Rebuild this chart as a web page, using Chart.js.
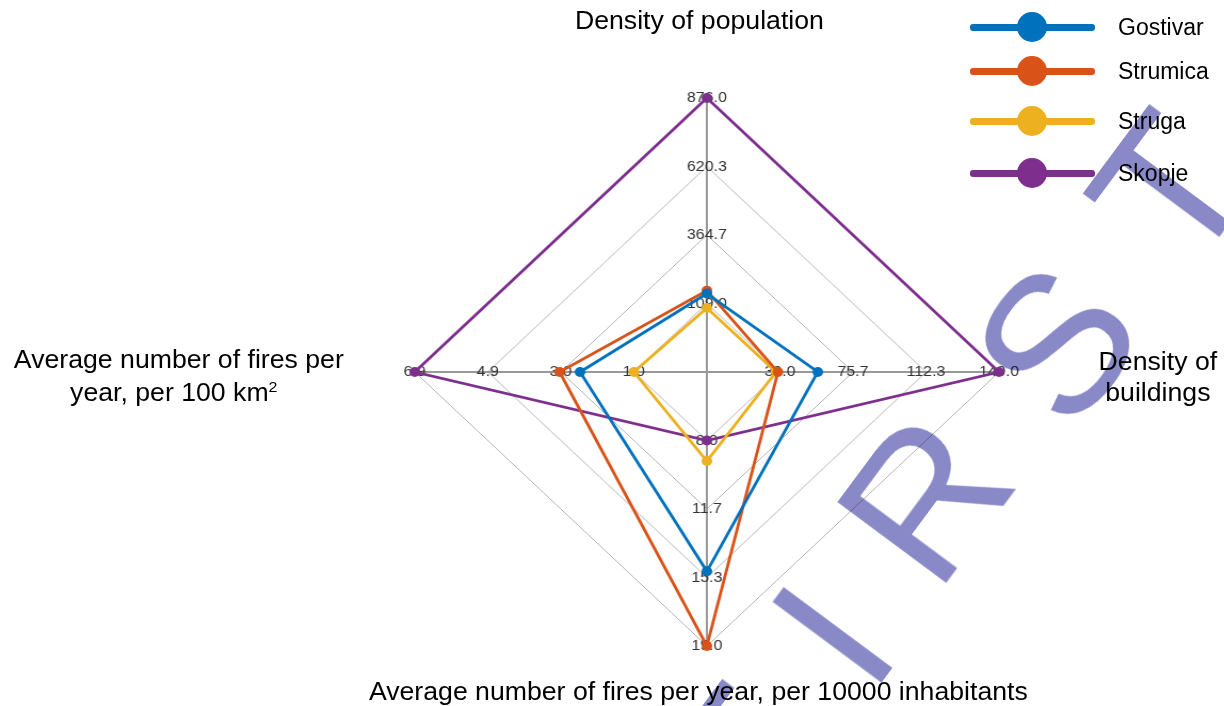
<!DOCTYPE html>
<html>
<head>
<meta charset="utf-8">
<script src="https://cdn.jsdelivr.net/npm/chart.js@4.4.1/dist/chart.umd.min.js"></script>
<style>
  html, body { margin: 0; padding: 0; background: #fff; overflow: hidden; }
  body { width: 1224px; height: 706px; position: relative; font-family: Arial, 'Liberation Sans', sans-serif; color: #000; }
  /* the source picture is stretched ~6.6% horizontally, so the chart stage is too */
  #stage { position: absolute; left: 0; top: 0; width: 1148px; height: 706px; transform: scaleX(1.0662); transform-origin: 0 0; }
  #chart { position: absolute; left: 0; top: 0; }
  .title { position: absolute; font-size: 25px; text-align: center; white-space: nowrap; }
  .title sup { font-size: 15px; line-height: 0; vertical-align: 9px; }
  .lg-line { position: absolute; left: 970px; width: 125px; height: 7px; border-radius: 3px; }
  .lg-dot { position: absolute; left: 1017px; width: 30px; height: 30px; border-radius: 50%; }
  .lg-text { position: absolute; left: 1118px; font-size: 23px; line-height: 30px; white-space: nowrap; }
  #mark {
    position: absolute; left: 765px; top: 684px;
    font: 197px/197px 'Liberation Sans', Arial, sans-serif; letter-spacing: 66px;
    color: rgb(137, 137, 199); mix-blend-mode: multiply; white-space: nowrap;
    transform-origin: 0 166.8px; transform: rotate(-53.4deg);
  }
  #mark span { position: relative; }
</style>
</head>
<body>
<div id="stage">
  <canvas id="chart" width="1148" height="706"></canvas>
  <div class="title" style="left:356px;width:600px;top:5px;line-height:30px">Density of population</div>
  <div class="title" style="left:13px;width:300px;top:343px;line-height:33.4px">Average number of fires per<br>year, per 100 km<sup>2</sup></div>
  <div class="title" style="left:936px;width:300px;top:346px;line-height:30.5px">Density of<br>buildings</div>
  <div class="title" style="left:255px;width:800px;top:676px;line-height:30px">Average number of fires per year, per 10000 inhabitants</div>
</div>
<div id="legend"></div>
<div id="mark">F<span style="top:-6px">I</span><span style="top:-14px">R</span>ST</div>

<script>
// axes, clockwise from the top
const axes = [
  'Density of population',
  'Density of buildings',
  'Average number of fires per year, per 10000 inhabitants',
  'Average number of fires per year, per 100 km2',
];

// tick labels per axis (innermost ring -> outer ring)
const popTicks = [109.0, 364.7, 620.3, 876.0];
const bldTicks = [39.0, 75.7, 112.3, 149.0];
const fires10kTicks = [8.0, 11.7, 15.3, 19.0];
const fires100kmTicks = [1.0, 3.0, 4.9, 6.9];

const cities = ['Gostivar', 'Strumica', 'Struga', 'Skopje'];
const colors = ['#0072BD', '#D95319', '#EDB120', '#7E2F8E'];

// values in axis order
const gostivar = [146, 58, 15.0, 2.45];
const strumica = [157, 38, 19.0, 3.0];
const struga = [92, 37, 9.1, 1.0];
const skopje = [876, 149, 8.0, 6.9];

const series = [gostivar, strumica, struga, skopje];
const axisTicks = [popTicks, bldTicks, fires10kTicks, fires100kmTicks];

// each axis has its own range: first tick sits on ring 1, last on ring 4
const RINGS = 4;
function toRing(v, i) {
  const t = axisTicks[i];
  const lo = t[0], hi = t[t.length - 1];
  return 1 + (RINGS - 1) * (v - lo) / (hi - lo);
}

/* ---------- per-axis tick labels ---------- */
const axisTickLabels = {
  id: 'axisTickLabels',
  beforeDatasetsDraw(chart) {
    const scale = chart.scales.r;
    const ctx = chart.ctx;
    ctx.save();
    ctx.font = '15px Arial, "Liberation Sans", sans-serif';
    ctx.fillStyle = '#333';
    ctx.textAlign = 'center';
    ctx.textBaseline = 'middle';
    axisTicks.forEach((ticks, i) => {
      ticks.forEach((t, k) => {
        const p = scale.getPointPositionForValue(i, k + 1);
        ctx.fillText(t.toFixed(1), p.x, p.y);
      });
    });
    ctx.restore();
  },
};

new Chart(document.getElementById('chart'), {
  type: 'radar',
  data: {
    labels: axes,
    datasets: series.map((s, j) => ({
      label: cities[j],
      data: s.map((v, i) => toRing(v, i)),
      borderColor: colors[j],
      backgroundColor: colors[j],
      pointBackgroundColor: colors[j],
      pointBorderWidth: 0,
      pointRadius: 5,
      borderWidth: 2.8,
      fill: false,
      tension: 0,
    })),
  },
  options: {
    responsive: false,
    animation: false,
    layout: { padding: { left: 389, right: 211, top: 98, bottom: 60 } },
    plugins: { legend: { display: false }, tooltip: { enabled: false } },
    scales: {
      r: {
        min: 0,
        max: RINGS,
        ticks: { display: false, stepSize: 1 },
        pointLabels: { display: false },
        grid: { color: '#b6b6b6', lineWidth: 1 },
        angleLines: { color: '#999999', lineWidth: 2 },
      },
    },
  },
  plugins: [axisTickLabels],
});

/* ---------- legend (top right) ---------- */
const legendRows = [27, 71, 121, 173];
document.getElementById('legend').innerHTML = cities
  .map((c, j) => {
    const y = legendRows[j];
    return `<div class="lg-line" style="top:${y - 3.5}px;background:${colors[j]}"></div>
      <div class="lg-dot" style="top:${y - 15}px;background:${colors[j]}"></div>
      <div class="lg-text" style="top:${y - 15}px">${c}</div>`;
  })
  .join('');
</script>
</body>
</html>
